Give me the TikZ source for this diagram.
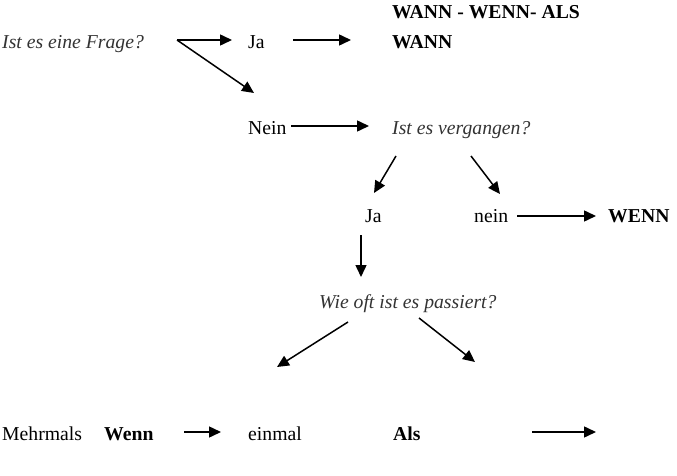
\documentclass[tikz,border=0pt]{standalone}
\usepackage{fontspec}
\setmainfont{Liberation Serif}
\usetikzlibrary{arrows.meta}
\tikzset{
  txt/.style={anchor=base west, inner sep=0pt, font=\fontsize{19.7}{23}\selectfont},
  it/.style={txt, font=\fontsize{19.7}{23}\selectfont\itshape, text=black!80},
  bf/.style={txt, font=\fontsize{19.7}{23}\selectfont\bfseries},
  arr/.style={line width=1.5pt, -{Triangle[length=12pt,width=11pt]}}
}
\begin{document}
\begin{tikzpicture}[x=1pt,y=-1pt]
\useasboundingbox (0,0) rectangle (677,476);
\node[it] (frage) at (2,49) {Ist es eine Frage?};
\node[txt] (ja1) at (248,49) {Ja};
\node[bf] (wwa) at (392,19) {WANN - WENN- ALS};
\node[bf] (wann) at (392,49) {WANN};
\node[txt] (nein1) at (248,135) {Nein};
\node[it] (verg) at (392,135) {Ist es vergangen?};
\node[txt] (ja2) at (365,222) {Ja};
\node[txt] (nein2) at (474,222) {nein};
\node[bf] (wenn) at (608,222) {WENN};
\node[it] (oft) at (319,308) {Wie oft ist es passiert?};
\node[txt] (mehr) at (2,440) {Mehrmals};
\node[bf] (wenn2) at (104,440) {Wenn};
\node[txt] (einmal) at (248,440) {einmal};
\node[bf] (als) at (393,440) {Als};
% arrow end points
\coordinate (a1) at (177,40); \coordinate (a1e) at (232,40);
\coordinate (a2e) at (254,93);
\coordinate (b1) at (293,40); \coordinate (b1e) at (351,40);
\coordinate (c1) at (291,126); \coordinate (c1e) at (369,126);
\coordinate (d1) at (396,156); \coordinate (d1e) at (374,193);
\coordinate (d2) at (471,156); \coordinate (d2e) at (500,194);
\coordinate (e1) at (517,216); \coordinate (e1e) at (596,216);
\coordinate (f1) at (361,235); \coordinate (f1e) at (361,277);
\coordinate (g1) at (348,322); \coordinate (g1e) at (277,367);
\coordinate (g2) at (419,318); \coordinate (g2e) at (475,362);
\coordinate (h1) at (184,432); \coordinate (h1e) at (221,432);
\coordinate (k1) at (532,432); \coordinate (k1e) at (596,432);
\draw[arr] (a1) -- (a1e);
\draw[arr] (a1) -- (a2e);
\draw[arr] (b1) -- (b1e);
\draw[arr] (c1) -- (c1e);
\draw[arr] (d1) -- (d1e);
\draw[arr] (d2) -- (d2e);
\draw[arr] (e1) -- (e1e);
\draw[arr] (f1) -- (f1e);
\draw[arr] (g1) -- (g1e);
\draw[arr] (g2) -- (g2e);
\draw[arr] (h1) -- (h1e);
\draw[arr] (k1) -- (k1e);
\end{tikzpicture}
\end{document}
